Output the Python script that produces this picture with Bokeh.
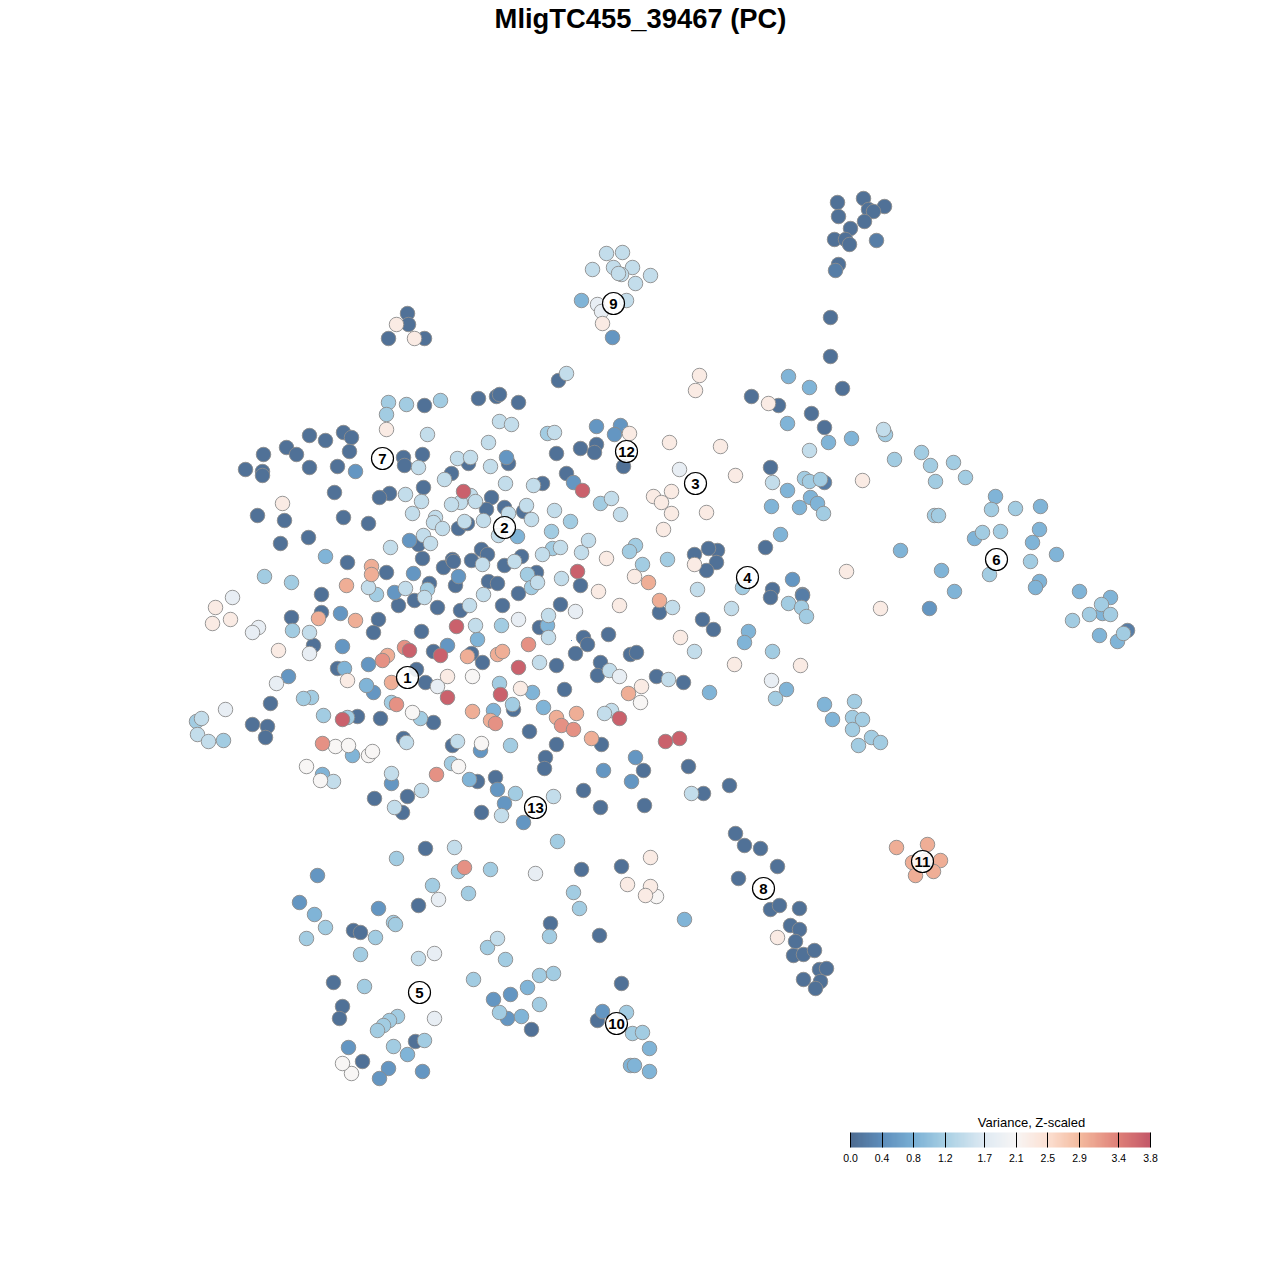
from bokeh.plotting import figure
from bokeh.models import ColumnDataSource, LinearColorMapper, ColorBar, FixedTicker, Range1d, PrintfTickFormatter
from bokeh.core.properties import value
from bokeh.embed import file_html
from bokeh.resources import INLINE

TITLE = "MligTC455_39467 (PC)"
LEGEND_TITLE = "Variance, Z-scaled"
legend_ticks = [0.0, 0.4, 0.8, 1.2, 1.7, 2.1, 2.5, 2.9, 3.4, 3.8]
palette_anchors = ["#4e6d92", "#5e8ebc", "#7ab0d5", "#a8d0e4", "#dfeaf3", "#f8f6f5", "#fce0d2", "#f4bb9f", "#df7f78", "#c45868"]

# (x, y), grouped by variance level
v005 = [(837,202),(863,198),(884,206),(868,209),(873,211),(838,216),(864,221),(850,228),(834,239),(845,239),(849,244),(838,264),(830,317),(830,356),(842,388),
 (407,313),(408,324),(388,338),(424,338),(424,405),(478,398),(496,396),(499,394),(518,402),(309,435),(325,440),(343,432),(351,437),(286,447),(296,454),(263,454),(349,451),(245,469),(262,471),(262,475),(309,467),(337,466),
 (403,457),(404,465),(422,454),(334,492),(389,493),(379,497),(423,487),(257,515),(284,520),(343,517),(368,523),(280,543),(308,537),(418,544),(347,562),(386,572),(321,594),(429,583),(414,600),(398,605),
 (437,607),(460,610),(502,605),(455,585),(488,581),(497,583),(518,593),(443,567),(452,559),(453,561),(471,560),(481,549),(487,554),(504,565),(521,556),(422,558),(536,572),(291,617),(321,612),(378,619),
 (468,463),(508,463),(451,473),(491,497),(486,509),(504,507),(523,511),(458,528),(467,523),(556,453),(580,448),(596,444),(594,452),(623,466),(566,473),(542,483),(694,554),(717,550),(716,562),(706,570),(708,548),(765,547),(770,467),
 (580,585),(659,612),(560,604),(539,627),(702,619),(713,629),(583,637),(608,634),(772,589),(770,597),(313,645),(373,632),(421,631),(433,651),(471,653),(482,662),(337,668),(416,669),(425,682),
 (270,703),(433,722),(513,709),(357,716),(380,718),(252,724),(267,726),(265,737),(403,738),(529,731),(452,745),(477,781),(495,777),(481,812),(374,798),(407,796),(402,812),(425,848),
 (587,644),(575,653),(630,654),(636,652),(556,665),(600,662),(597,675),(656,676),(683,682),(564,689),(601,744),(556,744),(643,770),(688,766),(545,757),(544,768),(729,785),(703,793),(583,790),(600,807),(644,805),(735,833),(744,845),(760,848),
 (751,396),(778,405),(811,413),(824,427),(581,869),(621,866),(418,905),(353,930),(360,932),(550,923),(599,935),(333,982),(621,983),(342,1006),(339,1018),(531,1029),(597,1020),(415,1041),(362,1061),
 (738,878),(777,866),(770,909),(779,905),(799,908),(790,925),(799,929),(795,941),(793,955),(803,954),(814,950),(819,969),(826,968),(803,979),(820,981),(815,988),(558,380)]
v020 = [(876,240),(835,270),(1127,630),(824,482),(802,594),(802,595)]
v050 = [(355,471),(409,540),(413,573),(394,592),(458,576),(340,613),(506,457),(596,426),(620,425),(614,434),(573,482),(342,646),(447,645),(368,664),(288,676),(373,692),(480,750),(391,783),(497,789),(504,803),(523,822),
 (635,757),(603,770),(631,781),(792,579),(929,608),(317,875),(299,902),(378,908),(510,994),(493,999),(507,1018),(602,1011),(348,1047),(388,1068),(379,1078),(422,1071),(612,337)]
v085 = [(325,556),(517,536),(547,625),(771,506),(780,534),(748,631),(744,642),(477,639),(344,668),(366,685),(532,692),(493,710),(352,755),(322,774),(469,779),(543,707),(709,692),
 (788,376),(809,387),(787,423),(828,442),(851,438),(995,496),(1040,506),(1039,529),(974,538),(1032,542),(1056,554),(1039,581),(1035,587),(1079,591),(1110,597),(1102,613),(1099,635),(1117,641),(900,550),(941,570),(954,591),
 (787,490),(810,497),(817,503),(799,507),(786,689),(824,704),(832,719),(314,914),(684,919),(527,987),(521,1016),(649,1048),(407,1054),(630,1065),(634,1065),(649,1071),(581,300)]
v115 = [(388,402),(406,404),(440,400),(386,414),(264,576),(291,582),(376,594),(527,574),(531,587),(427,589),(547,433),(600,503),(570,521),(551,531),(552,548),(635,545),(629,551),(642,564),(667,559),(742,587),
 (501,625),(292,630),(499,683),(311,697),(303,698),(391,702),(420,718),(512,704),(323,715),(347,717),(510,745),(451,763),(515,793),(557,841),(772,651),(775,698),
 (885,434),(894,459),(921,452),(930,465),(953,462),(935,481),(965,477),(1015,508),(991,509),(982,532),(1000,531),(1030,561),(989,574),(1101,604),(1089,614),(1072,620),(1110,614),(1123,633),(934,515),(938,515),
 (804,478),(809,481),(820,479),(823,513),(788,603),(801,607),(806,616),(854,701),(852,717),(862,719),(852,729),(871,737),(880,742),(858,745),
 (196,721),(223,740),(396,858),(458,871),(490,869),(432,885),(468,893),(573,892),(579,908),(325,927),(306,938),(393,922),(395,924),(375,937),(549,936),(487,947),(360,954),(505,959),(539,975),(553,973),(473,979),(364,986),(539,1004),(499,1012),(626,1012),(397,1016),(389,1020),(383,1025),(377,1030),(632,1033),(642,1032),(424,1040),(393,1046)]
v145 = [(606,253),(622,252),(592,269),(613,267),(632,267),(621,274),(618,273),(650,275),(635,283),(626,300),(427,434),(499,421),(511,424),(418,467),(405,494),(421,501),(412,513),(435,517),(433,522),(442,528),(390,547),(423,535),(430,543),
 (368,587),(405,588),(424,597),(469,605),(483,594),(482,564),(514,561),(531,519),(537,582),(457,458),(470,457),(488,442),(490,466),(505,483),(444,479),(533,485),(470,495),(460,502),(451,504),(475,501),(508,513),(526,505),(483,520),(464,521),(498,535),
 (554,432),(611,498),(620,514),(554,510),(560,547),(542,554),(581,552),(588,540),(561,578),(548,615),(548,637),(672,607),(697,589),(731,608),(772,482),(309,632),(475,625),(539,662),(668,679),(694,651),
 (609,670),(611,710),(604,713),(457,741),(406,742),(333,781),(391,773),(421,790),(394,807),(501,815),(553,796),(691,793),(454,847),(883,429),(809,450),(201,718),(197,734),(208,741),(418,958),(497,938),(566,373)]
v185 = [(258,627),(252,632),(309,653),(276,683),(437,686),(619,676),(771,680),(232,597),(225,709),(679,469),(575,611),(518,619),(535,873),(438,899),(434,953),(434,1018),(597,304),(601,311)]
v210 = [(472,676),(412,712),(335,746),(348,745),(368,755),(372,751),(481,743),(306,766),(320,780),(458,766),(640,702),(656,896),(351,1073),(342,1063)]
v230 = [(396,324),(414,338),(386,429),(282,503),(602,323),(629,433),(669,442),(720,446),(735,475),(671,491),(653,496),(661,502),(671,513),(706,512),(663,529),(606,558),(694,564),(634,576),(598,591),(619,605),(680,637),
 (278,650),(347,680),(447,676),(520,688),(641,686),(734,664),(800,665),(695,390),(699,375),(768,403),(862,480),(846,571),(880,608),(215,607),(212,623),(230,619),(650,857),(627,884),(650,886),(645,895),(777,937)]
v300 = [(371,566),(371,574),(346,585),(318,618),(355,620),(648,582),(659,600),(467,656),(497,654),(502,651),(387,655),(391,682),(472,711),(490,720),(628,693),(556,717),(576,713),(591,738),(896,847),(927,844),(912,862),(940,860),(915,875),(933,871),(925,860)]
v325 = [(404,647),(382,660),(528,644),(396,704),(495,723),(322,743),(436,774),(561,725),(573,729),(464,867)]
v370 = [(463,491),(582,490),(577,571),(456,626),(409,650),(440,655),(518,667),(447,697),(500,694),(342,719),(619,718),(665,741),(679,738)]
groups = [(0.05, v005), (0.2, v020), (0.5, v050), (0.85, v085), (1.15, v115), (1.45, v145), (1.85, v185), (2.1, v210), (2.3, v230), (3.0, v300), (3.25, v325), (3.7, v370)]

cluster_ids = ["1", "2", "3", "4", "5", "6", "7", "8", "9", "10", "11", "12", "13"]
cluster_x = [407, 504, 695, 747, 419, 996, 382, 763, 613, 616, 922, 626, 535]
cluster_y = [677, 527, 483, 577, 992, 559, 458, 888, 303, 1023, 861, 451, 807]

def lerp_palette(stops, ticks, n=256):
    out = []
    lo, hi = ticks[0], ticks[-1]
    for i in range(n):
        t = lo + (hi - lo) * i / (n - 1)
        for k in range(len(ticks) - 1):
            if t <= ticks[k + 1] or k == len(ticks) - 2:
                f = (t - ticks[k]) / (ticks[k + 1] - ticks[k])
                a, b = stops[k], stops[k + 1]
                rgb = [round(int(a[j:j+2], 16) * (1 - f) + int(b[j:j+2], 16) * f) for j in (1, 3, 5)]
                out.append("#%02x%02x%02x" % tuple(rgb))
                break
    return out

palette = lerp_palette(palette_anchors, legend_ticks)
mapper = LinearColorMapper(palette=palette, low=0.0, high=3.8)

T = 33
p = figure(width=1280, height=1280, output_backend="svg", toolbar_location=None,
           x_range=Range1d(0, 1280), y_range=Range1d(1280, T),
           x_axis_location=None, y_axis_location=None, min_border=0,
           title=TITLE, outline_line_color=None, background_fill_color="white")
p.grid.visible = False
p.title.align = "center"
p.title.text_font = "Liberation Sans"
p.title.text_font_style = "bold"
p.title.text_font_size = "27.35px"
p.title.text_color = "black"
p.title.standoff = 0

xs, ys, vs = [], [], []
for v, pts in groups:
    for (x, y) in pts:
        xs.append(x); ys.append(y); vs.append(v)
src = ColumnDataSource(dict(x=xs, y=ys, v=vs))
p.scatter("x", "y", source=src, size=14.5, fill_color={"field": "v", "transform": mapper},
          line_color="#8c8c8c", line_width=1, line_alpha=0.9)

p.scatter([571], [640], size=1, fill_color="#3a6ea5", line_color=None)

p.circle(cluster_x, cluster_y, radius=11, fill_color="white", fill_alpha=0.88, line_color="black", line_width=1.2)
p.text(cluster_x, cluster_y, text=cluster_ids, text_align="center", text_baseline="middle",
       text_font=value("Liberation Sans"), text_font_style="bold", text_font_size="15px", text_color="black")

p.text([1031], [1122], text=[LEGEND_TITLE], text_align="center", text_baseline="middle",
       text_font=value("Liberation Sans"), text_font_size="13px", text_color="black")

cb = ColorBar(color_mapper=mapper, ticker=FixedTicker(ticks=legend_ticks), formatter=PrintfTickFormatter(format="%.1f"),
              orientation="horizontal",
              width=300, height=15, location=(850, 116), padding=0, margin=0,
              major_tick_in=15, major_tick_out=0, major_tick_line_color="black", major_tick_line_width=1,
              minor_tick_line_color=None, bar_line_color=None, border_line_color=None, background_fill_color=None,
              major_label_text_font="Liberation Sans", major_label_text_font_size="10.5px", major_label_text_color="black",
              label_standoff=6)
p.add_layout(cb)

open("out.html", "w").write(file_html(p, INLINE))
